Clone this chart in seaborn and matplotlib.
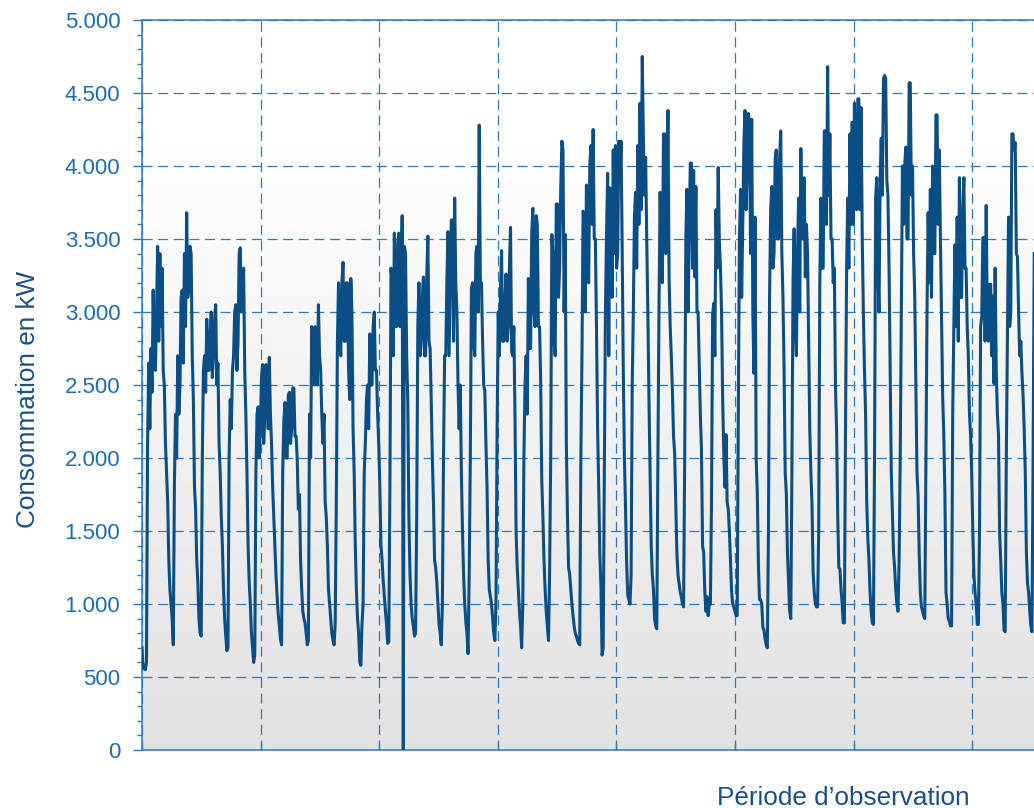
import numpy as np
import pandas as pd
import matplotlib
matplotlib.use("Agg")
import matplotlib.pyplot as plt
from matplotlib.ticker import MultipleLocator, FuncFormatter
import seaborn as sns

# Hourly load readings in kW (24 values per day), grouped by week
days_01_07 = [
    700, 560, 580, 550, 600, 2100, 2650, 2200, 2750, 2450, 3150, 2650, 2600, 3000, 3450, 2800, 3400, 2900, 3300, 2600, 2500, 2100, 1900, 1700,
    1300, 1100, 1000, 900, 720, 1800, 2300, 2000, 2700, 2300, 2500, 3100, 3150, 2650, 3400, 2900, 3680, 3100, 3200, 3450, 3400, 2700, 2400, 1800,
    1650, 1300, 1150, 900, 800, 780, 2000, 2600, 2700, 2450, 2950, 2600, 2600, 2850, 3000, 2550, 2700, 2950, 3050, 2500, 2650, 2100, 1900, 1600,
    1400, 1100, 900, 780, 680, 700, 2000, 2400, 2200, 2600, 2700, 3000, 3050, 2600, 2800, 3400, 3440, 3000, 3050, 3300, 2600, 2300, 1900, 1400,
    1150, 1000, 800, 700, 600, 650, 1900, 2300, 2350, 2000, 2200, 2550, 2640, 2100, 2300, 2640, 2500, 2200, 2690, 2300, 2100, 1800, 1600, 1400,
    1200, 1050, 930, 850, 760, 720, 1900, 2250, 2380, 2000, 2000, 2430, 2450, 2100, 2200, 2480, 2480, 2150, 2150, 2000, 1650, 1750, 1300, 1100,
    950, 900, 870, 800, 720, 750, 2300, 2000, 2900, 2600, 2500, 2900, 2800, 2500, 3050, 2700, 2600, 2300, 2100, 2300, 1700, 1600, 1400, 1100,
]
days_08_14 = [
    1000, 900, 800, 750, 720, 860, 1700, 2800, 3200, 2800, 2700, 3200, 3340, 2800, 2800, 3200, 3200, 2600, 2400, 3230, 3000, 2200, 1900, 1400,
    1100, 900, 800, 600, 580, 860, 1000, 1900, 2100, 2400, 2500, 2200, 2850, 2500, 2500, 2900, 3000, 2600, 2600, 2300, 2100, 1800, 1400, 1300,
    1160, 1050, 950, 860, 730, 740, 1800, 3300, 3200, 2700, 3540, 2900, 2900, 3470, 3540, 2900, 3100, 3660, 0, 3450, 3400, 2700, 2400, 1600,
    1200, 1000, 900, 850, 780, 800, 1600, 2900, 3200, 2700, 2800, 3100, 3240, 2700, 2700, 3250, 3520, 2800, 2750, 2400, 2000, 1700, 1300, 1250,
    1150, 1000, 860, 800, 720, 1000, 2000, 2700, 2700, 3200, 3550, 2700, 3150, 3630, 3630, 2800, 3780, 3200, 3000, 2500, 2200, 2500, 1900, 1500,
    1200, 1000, 880, 800, 660, 1200, 2000, 3160, 3200, 2800, 2700, 3400, 3450, 3000, 4280, 3200, 3200, 2800, 2500, 2460, 2100, 1800, 1300, 1100,
    1050, 1000, 900, 800, 750, 1000, 2200, 3000, 2700, 3150, 3420, 2800, 2800, 3080, 3260, 2800, 2900, 3300, 3580, 2730, 2700, 2900, 2300, 1500,
]
days_15_21 = [
    1250, 1100, 950, 850, 700, 1000, 2000, 2500, 2700, 2300, 3230, 2750, 2750, 3530, 3710, 3000, 2900, 3660, 3600, 2900, 2900, 2540, 1850, 1600,
    1300, 1100, 950, 850, 750, 1200, 2000, 3530, 3400, 2800, 2700, 3740, 3740, 3100, 3300, 3850, 4170, 4110, 3000, 3530, 2100, 1600, 1250, 1200,
    1100, 1000, 920, 850, 800, 780, 750, 730, 720, 2000, 2700, 3690, 3660, 3000, 3870, 3300, 3200, 4000, 4140, 3600, 4250, 3500, 3500, 2900,
    2200, 1800, 1340, 1120, 650, 700, 1800, 3000, 3530, 3950, 2700, 3850, 3710, 3100, 4110, 3400, 4140, 3300, 3400, 4170, 3920, 4170, 3440, 2600,
    2000, 1660, 1280, 1060, 1030, 1000, 1200, 2500, 3000, 3660, 3820, 3300, 4140, 3600, 4430, 3700, 4750, 4190, 3800, 4060, 3500, 3000, 2400, 1900,
    1400, 1200, 1100, 900, 850, 830, 2000, 3050, 3820, 3300, 3200, 4220, 4220, 3400, 3700, 4380, 3240, 2900, 2700, 2450, 2150, 2030, 1700, 1350,
    1200, 1140, 1080, 1050, 1000, 980, 2000, 3500, 3840, 3000, 3500, 4020, 4020, 3300, 3970, 3240, 3860, 3000, 3000, 2650, 2300, 2060, 1400, 1350,
]
days_22_28 = [
    1080, 950, 1050, 920, 1000, 1000, 1700, 2980, 3060, 2700, 3700, 3300, 3990, 3500, 3300, 3000, 2400, 2030, 1800, 2160, 1700, 1650, 1500, 1300,
    1080, 1000, 980, 950, 920, 920, 2300, 3500, 3840, 3100, 3600, 4160, 4380, 3700, 3990, 4360, 4300, 3400, 4320, 3000, 2580, 3650, 2000, 1760,
    1270, 1030, 1030, 1000, 840, 820, 760, 720, 700, 1500, 3110, 3700, 3860, 3300, 3400, 4050, 4110, 3500, 3500, 4050, 4240, 3400, 3100, 2600,
    1900, 1760, 1350, 1140, 950, 900, 1900, 3200, 3570, 2900, 2700, 3400, 3780, 3000, 4120, 3600, 3500, 3920, 3240, 3600, 3400, 2800, 2200, 1900,
    1680, 1220, 1080, 1000, 980, 980, 1500, 3200, 3780, 3300, 3300, 4240, 4240, 3600, 4680, 3800, 4220, 3500, 3500, 3200, 3300, 2500, 2200, 1620,
    1250, 1240, 1100, 1000, 870, 870, 2200, 3300, 3780, 3300, 4220, 3600, 4300, 3600, 4430, 3800, 3700, 4460, 4460, 3700, 4400, 3500, 3000, 2600,
    2300, 1700, 1450, 1300, 1080, 950, 870, 860, 2000, 3780, 3920, 3300, 3000, 3890, 4190, 3800, 4600, 4620, 4600, 3900, 3800, 3300, 2600, 1900,
]
days_29_34 = [
    1620, 1350, 1250, 1100, 1000, 950, 1300, 2000, 3000, 4000, 3600, 4000, 4130, 3500, 3500, 4570, 4570, 3800, 4000, 3400, 3110, 2500, 1900, 1740,
    1350, 1080, 980, 950, 920, 900, 2000, 3000, 3680, 3200, 3840, 3100, 4000, 3400, 3400, 4350, 4350, 3600, 4110, 3500, 2970, 2430, 2160, 1760,
    1080, 1000, 900, 880, 850, 850, 2300, 2900, 3460, 2900, 3650, 2800, 3920, 3100, 3100, 3700, 3920, 3300, 3300, 2900, 2700, 2300, 2160, 1900,
    1500, 1200, 1080, 1000, 860, 860, 1500, 2900, 2970, 3510, 3510, 2800, 3730, 2900, 2800, 3190, 3190, 2700, 3110, 2510, 3300, 2600, 2300, 2160,
    1490, 1300, 1080, 1000, 820, 810, 2000, 2860, 3650, 2900, 3000, 4220, 4220, 4110, 4160, 3400, 3380, 3000, 2700, 2800, 2580, 2430, 2200, 1900,
    1350, 1140, 1080, 950, 850, 810, 2000, 3400,
]

STEP_H = 1.0
consumption = days_01_07 + days_08_14 + days_15_21 + days_22_28 + days_29_34
df = pd.DataFrame({
    "heure": np.arange(len(consumption)) * STEP_H,
    "kW": consumption,
})

LINE = "#0a4e86"
AXIS_BLUE = "#2a7bbf"
TICK_TXT = "#1c6fb4"
LABEL_TXT = "#19508b"

W, H = 1034, 808
PX_PER_DAY = 26.8
fig = plt.figure(figsize=(W / 100, H / 100), dpi=100, facecolor="white")
left, right, top, bottom = 142, 1034, 20, 750
ax = fig.add_axes([left / W, 1 - bottom / H, (right - left) / W, (bottom - top) / H])

plt.rcParams["font.family"] = ["Liberation Sans", "DejaVu Sans"]

# soft vertical background gradient inside the plot area
frac = np.linspace(0, 1, 400)
shade = np.where(frac > 0.86, 1.0, 0.885 + (1.0 - 0.885) * frac / 0.86)
grad = np.repeat(shade[::-1, None], 2, axis=1)
ax.set_facecolor("none")
ax.imshow(grad, cmap="gray", vmin=0, vmax=1, aspect="auto",
          extent=[0, 1, 0, 1], transform=ax.transAxes, zorder=0,
          interpolation="bilinear")

sns.lineplot(data=df, x="heure", y="kW", ax=ax, color=LINE, linewidth=2.2,
             estimator=None, zorder=3)

x_end = (right - left) / PX_PER_DAY * 24
ax.set_xlim(0, x_end)
ax.set_ylim(0, 5000)

grid_step = 106.2
ax.xaxis.set_major_locator(MultipleLocator(grid_step))
ax.yaxis.set_major_locator(MultipleLocator(500))
ax.yaxis.set_minor_locator(MultipleLocator(100))
ax.yaxis.set_major_formatter(FuncFormatter(lambda v, p: f"{int(round(v)):,}".replace(",", ".")))
ax.xaxis.set_major_formatter(FuncFormatter(lambda v, p: ""))

ax.grid(True, which="major", axis="both", color=AXIS_BLUE, linewidth=0.9,
        linestyle=(0, (8, 4.5)), zorder=1)
ax.set_axisbelow(True)

ax.tick_params(axis="y", which="major", direction="out", length=6.5, width=1,
               color=AXIS_BLUE, labelcolor=TICK_TXT, labelsize=16, pad=9)
ax.tick_params(axis="y", which="minor", direction="out", length=3.6, width=1,
               color=AXIS_BLUE)
ax.tick_params(axis="x", which="major", direction="in", length=5, width=1,
               color=AXIS_BLUE, labelbottom=False)
for lab in ax.get_yticklabels():
    lab.set_fontfamily(["Liberation Sans", "DejaVu Sans"])

for side in ("left", "top", "bottom"):
    ax.spines[side].set_color(AXIS_BLUE)
    ax.spines[side].set_linewidth(1.1)
ax.spines["right"].set_visible(False)

ax.set_xlabel("")
ax.set_ylabel("")
fig.text(28 / W, 1 - 399 / H, "Consommation en kW", rotation=90,
         ha="center", va="center", color=LABEL_TXT, fontsize=18.8,
         family=["Liberation Sans", "DejaVu Sans"])
fig.text(843 / W, 1 - 805 / H, "Période d\u2019observation",
         ha="center", va="baseline", color=LABEL_TXT, fontsize=18.8,
         family=["Liberation Sans", "DejaVu Sans"])

fig.savefig("out.png", dpi=100, facecolor="white")
